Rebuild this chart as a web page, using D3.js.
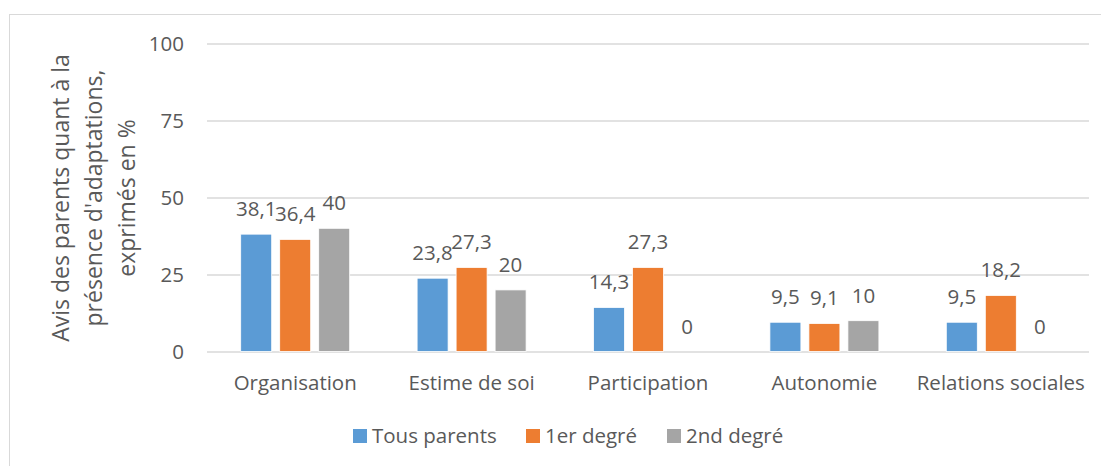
<!DOCTYPE html>
<html><head><meta charset="utf-8">
<script src="https://cdn.jsdelivr.net/npm/d3@7"></script>
<style>
html,body{margin:0;padding:0;background:#fff;}
text{font-family:"Open Sans",sans-serif;fill:#595959;}
</style></head>
<body>
<svg id="chart" width="1101" height="466"></svg>
<script>
const categories = ["Organisation","Estime de soi","Participation","Autonomie","Relations sociales"];
const seriesNames = ["Tous parents","1er degré","2nd degré"];
const tousParents = [38.1, 23.8, 14.3, 9.5, 9.5];
const premierDegre = [36.4, 27.3, 27.3, 9.1, 18.2];
const secondDegre = [40, 20, 0, 10, 0];
const yTicks = [0, 25, 50, 75, 100];
const yTitleLines = ["Avis des parents quant à la", "présence d'adaptations,", "exprimés en %"];
const colors = ["#5B9BD5", "#ED7D31", "#A5A5A5"];

const seriesValues = [tousParents, premierDegre, secondDegre];
const svg = d3.select("#chart");
const FS = 20.5;

// chart border
svg.append("rect").attr("x",9.5).attr("y",14.5).attr("width",1200).attr("height",600)
  .attr("fill","none").attr("stroke","#D9D9D9").attr("stroke-width",1);

const plotLeft = 207, plotRight = 1089, plotTop = 43.5, plotBottom = 351.5;
const y = d3.scaleLinear().domain([0,100]).range([plotBottom, plotTop]);
const x0 = d3.scaleBand().domain(categories).range([plotLeft, plotRight]).padding(0);
const x1 = d3.scaleBand().domain(seriesNames).range([-58.5, 58.5]).paddingInner(8/39).paddingOuter(4/39);

// gridlines
const yAxis = d3.axisLeft(y).tickValues(yTicks).tickSize(-(plotRight-plotLeft)).tickFormat(d3.format("d")).tickPadding(23);
const gAxis = svg.append("g").attr("transform",`translate(${plotLeft},0)`).call(yAxis);
gAxis.select(".domain").remove();
gAxis.selectAll(".tick line").attr("stroke","#D9D9D9").attr("stroke-width",1.3);
gAxis.selectAll(".tick text").attr("font-size",FS).attr("fill","#595959")
  .style("font-family","'Open Sans',sans-serif");

// bars
seriesNames.forEach((s, si) => {
  const g = svg.append("g");
  g.selectAll("rect").data(categories.map((c,i)=>({c, v: seriesValues[si][i]})))
    .enter().append("rect")
    .attr("x", d => x0(d.c) + x0.bandwidth()/2 + x1(s))
    .attr("width", x1.bandwidth())
    .attr("y", d => y(d.v))
    .attr("height", d => y(0) - y(d.v))
    .attr("fill", colors[si])
    .attr("stroke", d => d.v > 0 ? "#fff" : "none").attr("stroke-width", 0.8);
  g.selectAll("text").data(categories.map((c,i)=>({c, v: seriesValues[si][i]})))
    .enter().append("text")
    .attr("x", d => x0(d.c) + x0.bandwidth()/2 + x1(s) + x1.bandwidth()/2)
    .attr("y", d => y(d.v) - 18)
    .attr("text-anchor","middle").attr("font-size",FS)
    .text(d => String(d.v).replace(".", ","));
});

// x axis labels
const xAxis = d3.axisBottom(x0).tickSize(0).tickPadding(0);
const gx = svg.append("g").attr("transform",`translate(0,${plotBottom})`).call(xAxis);
gx.select(".domain").remove();
gx.selectAll(".tick text").attr("y", 38.5).attr("dy", 0).attr("font-size",FS).attr("fill","#595959")
  .style("font-family","'Open Sans',sans-serif");

// y title
const yt = svg.append("text").attr("transform","translate(94,198) rotate(-90)")
  .attr("text-anchor","middle").attr("font-size",23);
yTitleLines.forEach((l,i)=>{
  yt.append("tspan").attr("x",0).attr("y",(i-1)*33 + 8).text(l);
});

// legend
const legendX = [353, 526, 667];
seriesNames.forEach((s,i)=>{
  svg.append("rect").attr("x",legendX[i]).attr("y",429).attr("width",14).attr("height",14).attr("fill",colors[i]);
  svg.append("text").attr("x",legendX[i]+19).attr("y",443).attr("font-size",FS).text(s);
});
</script>
</body></html>
